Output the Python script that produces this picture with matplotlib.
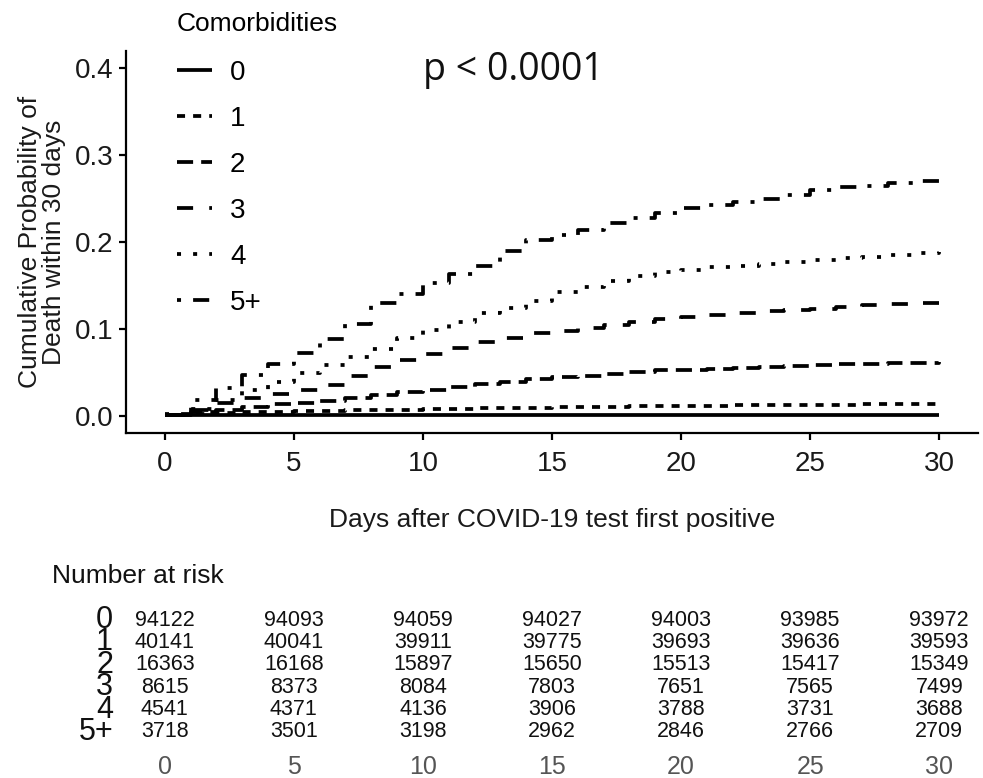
import matplotlib
matplotlib.use("Agg")
import matplotlib.pyplot as plt
from matplotlib.lines import Line2D
import numpy as np

plt.rcParams['font.family'] = ['Liberation Sans', 'DejaVu Sans']
plt.rcParams['lines.scale_dashes'] = False

days = list(range(0, 31))
groups = ["0", "1", "2", "3", "4", "5+"]

cum_0 = [0.001] * 31
cum_1 = [0.001, 0.002, 0.003, 0.004, 0.004, 0.005, 0.005, 0.006, 0.007, 0.007,
         0.008, 0.008, 0.009, 0.009, 0.009, 0.010, 0.010, 0.010, 0.011, 0.011,
         0.011, 0.011, 0.012, 0.012, 0.012, 0.012, 0.012, 0.013, 0.013, 0.013, 0.013]
cum_2 = [0.001, 0.004, 0.007, 0.010, 0.013, 0.015, 0.017, 0.020, 0.024, 0.027,
         0.030, 0.033, 0.036, 0.039, 0.042, 0.045, 0.046, 0.048, 0.050, 0.052,
         0.053, 0.054, 0.055, 0.056, 0.057, 0.058, 0.059, 0.060, 0.061, 0.061, 0.062]
cum_3 = [0.001, 0.006, 0.014, 0.020, 0.025, 0.030, 0.035, 0.046, 0.056, 0.064,
         0.071, 0.078, 0.085, 0.090, 0.095, 0.098, 0.101, 0.104, 0.108, 0.111,
         0.114, 0.116, 0.118, 0.120, 0.122, 0.123, 0.125, 0.127, 0.129, 0.130, 0.130]
cum_4 = [0.001, 0.008, 0.018, 0.029, 0.039, 0.049, 0.058, 0.067, 0.077, 0.089,
         0.099, 0.108, 0.118, 0.124, 0.132, 0.142, 0.148, 0.155, 0.161, 0.166,
         0.168, 0.171, 0.172, 0.175, 0.177, 0.179, 0.181, 0.183, 0.185, 0.187, 0.188]
cum_5 = [0.002, 0.018, 0.032, 0.047, 0.059, 0.072, 0.088, 0.105, 0.130, 0.140,
         0.153, 0.163, 0.172, 0.190, 0.202, 0.208, 0.214, 0.222, 0.228, 0.233,
         0.239, 0.243, 0.246, 0.250, 0.254, 0.260, 0.263, 0.265, 0.268, 0.270, 0.272]

risk_times = [0, 5, 10, 15, 20, 25, 30]
risk_0 = [94122, 94093, 94059, 94027, 94003, 93985, 93972]
risk_1 = [40141, 40041, 39911, 39775, 39693, 39636, 39593]
risk_2 = [16363, 16168, 15897, 15650, 15513, 15417, 15349]
risk_3 = [8615, 8373, 8084, 7803, 7651, 7565, 7499]
risk_4 = [4541, 4371, 4136, 3906, 3788, 3731, 3688]
risk_5 = [3718, 3501, 3198, 2962, 2846, 2766, 2709]

curves = [cum_0, cum_1, cum_2, cum_3, cum_4, cum_5]
risks = [risk_0, risk_1, risk_2, risk_3, risk_4, risk_5]

u = 2.9  # dash unit in points
styles = [
    (0, ()),
    (0, (2 * u, 2 * u)),
    (0, (4 * u, 2 * u)),
    (0, (4 * u, 4 * u)),
    (0, (1 * u, 3 * u)),
    (0, (1 * u, 3 * u, 4 * u, 3 * u)),
]

W, H = 983, 778
fig = plt.figure(figsize=(W / 100, H / 100), dpi=100)

def fx(px):
    return px / W

def fy(py):
    return 1 - py / H

AX_L, AX_R, AX_T, AX_B = 126, 978, 51, 433
ax = fig.add_axes([fx(AX_L), fy(AX_B), fx(AX_R) - fx(AX_L), fy(AX_T) - fy(AX_B)])
lw = 2.7
handles = []
for g, c, ls in zip(groups, curves, styles):
    ax.step(days, c, where='post', color='black', lw=lw, linestyle=ls,
            dash_capstyle='butt', solid_capstyle='butt')
    handles.append(Line2D([0], [0], color='black', lw=lw, linestyle=ls,
                          dash_capstyle='butt'))

ax.set_xlim(-1.5, 31.5)
ax.set_ylim(-0.02, 0.42)
ax.set_xticks([0, 5, 10, 15, 20, 25, 30])
ax.set_yticks([0.0, 0.1, 0.2, 0.3, 0.4])
ax.set_yticklabels(["0.0", "0.1", "0.2", "0.3", "0.4"])
for s in ['top', 'right']:
    ax.spines[s].set_visible(False)
for s in ['left', 'bottom']:
    ax.spines[s].set_linewidth(1.6)
ax.tick_params(axis='both', labelsize=20, width=1.6, length=5, color='black',
               labelcolor='#1a1a1a')
ax.tick_params(axis='x', pad=8)
ax.tick_params(axis='y', pad=4)

ax.set_xlabel("Days after COVID-19 test first positive", fontsize=19,
              color='#1a1a1a', va='center')
ax.xaxis.set_label_coords(0.5, (AX_B - 520) / (AX_B - AX_T))
ax.set_ylabel("Cumulative Probability of\nDeath within 30 days", fontsize=19,
              color='#1a1a1a', linespacing=0.95, va='center')
ax.yaxis.set_label_coords((42 - AX_L) / (AX_R - AX_L), 0.5)

fig.text(fx(513), fy(70), "p < 0.0001", fontsize=27, ha='center', va='center',
         family=['Open Sans', 'DejaVu Sans'], color='#111111')

leg = ax.legend(handles, groups, title="Comorbidities", loc='upper left',
                bbox_to_anchor=(fx(177), fy(12)), bbox_transform=fig.transFigure,
                frameon=False, fontsize=20, title_fontsize=19, handlelength=1.26,
                handletextpad=0.65, labelspacing=0.72, borderpad=0,
                borderaxespad=0, alignment='left')
leg._legend_box.sep = 17

# Risk table
ax2 = fig.add_axes([fx(AX_L), fy(743), fx(AX_R) - fx(AX_L), fy(609) - fy(743)])
ax2.set_xlim(-1.5, 31.5)
ax2.set_ylim(6, 0)
for i, (g, r) in enumerate(zip(groups, risks)):
    for t, n in zip(risk_times, r):
        ax2.text(t, i + 0.5, str(n), ha='center', va='center', fontsize=15.5,
                 color='#111111')
    ax2.text(-2.0, i + 0.5, g, ha='right', va='center', fontsize=22,
             color='#111111')
for s in ax2.spines.values():
    s.set_visible(False)
ax2.set_yticks([])
ax2.set_xticks(risk_times)
ax2.set_xticklabels([str(t) for t in risk_times])
ax2.tick_params(axis='x', length=0, labelsize=18, labelcolor='#555555', pad=9)
fig.text(fx(52), fy(576), "Number at risk", fontsize=19, ha='left', va='center',
         color='#111111')

fig.savefig("out.png", dpi=100)
